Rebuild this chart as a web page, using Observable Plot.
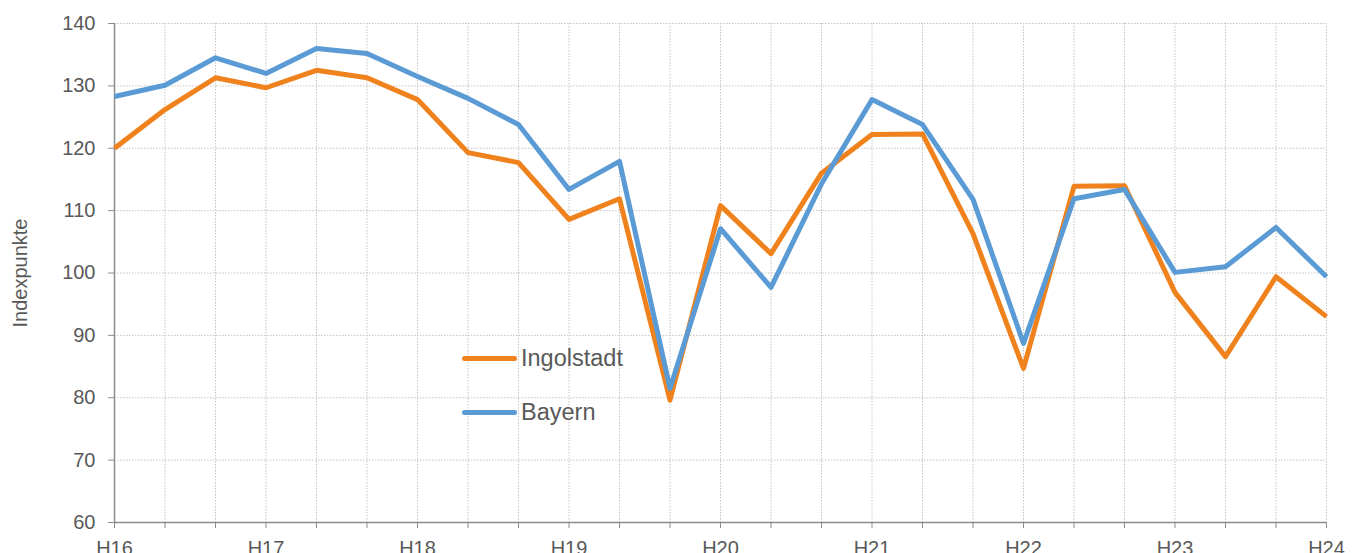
<!DOCTYPE html>
<html>
<head>
<meta charset="utf-8">
<script src="https://cdn.jsdelivr.net/npm/d3@7"></script>
<script src="https://cdn.jsdelivr.net/npm/@observablehq/plot@0.6"></script>
<style>
  html, body { margin: 0; padding: 0; background: #fff; }
  #wrap { position: relative; width: 1360px; height: 553px; overflow: hidden; font-family: "Liberation Sans", Arial, sans-serif; }
  .leg { position: absolute; left: 462px; display: flex; align-items: center; font-size: 23.5px; color: #595959; }
  .leg .sw { width: 55px; height: 5px; border-radius: 3px; margin-right: 4px; }
</style>
</head>
<body>
<div id="wrap"></div>
<script>
// Period labels (every third survey point carries a label)
const yearLabels = ["H16", "H17", "H18", "H19", "H20", "H21", "H22", "H23", "H24"];
const seriesNames = ["Ingolstadt", "Bayern"];
const seriesColors = ["#F0821E", "#5B9BD5"];

const ingolstadt = [120.0, 126.2, 131.3, 129.7, 132.5, 131.3, 127.8, 119.3, 117.7, 108.6, 111.9, 79.6,
                    110.8, 103.1, 116.0, 122.2, 122.3, 106.3, 84.7, 113.9, 114.0, 96.9, 86.6, 99.4, 93.0];
const bayern     = [128.3, 130.1, 134.5, 132.0, 136.0, 135.2, 131.5, 128.0, 123.8, 113.4, 117.9, 81.5,
                    107.1, 97.7, 114.3, 127.8, 123.8, 111.8, 88.7, 111.9, 113.4, 100.1, 101.0, 107.3, 99.4];
const yTicks = [60, 70, 80, 90, 100, 110, 120, 130, 140];

const idx = d3.range(ingolstadt.length);
const rows = [
  ...ingolstadt.map((v, i) => ({i, v, s: seriesNames[0]})),
  ...bayern.map((v, i) => ({i, v, s: seriesNames[1]}))
];

const grid = {stroke: "#c4c4c4", strokeOpacity: 1, strokeWidth: 1, strokeDasharray: "1.5,1.5"};

const chart = Plot.plot({
  width: 1360,
  height: 553,
  marginLeft: 114,
  marginRight: 34,
  marginTop: 23,
  marginBottom: 31,
  style: {fontFamily: "'Liberation Sans', Arial, sans-serif", fontSize: "20px", color: "#595959", background: "white", overflow: "visible"},
  x: {domain: [0, idx.length - 1]},
  y: {domain: [60, 140]},
  color: {domain: seriesNames, range: seriesColors},
  marks: [
    Plot.gridX(idx, grid),
    Plot.gridY(yTicks, grid),
    Plot.ruleX([0], {stroke: "#8c8c8c", strokeWidth: 1.5}),
    Plot.ruleY([60], {stroke: "#8c8c8c", strokeWidth: 1.5}),
    Plot.axisY(yTicks, {tickSize: 6, tickPadding: 13, stroke: "#8c8c8c", fill: "#595959",
      label: "Indexpunkte", labelAnchor: "center", labelArrow: "none", labelOffset: 102}),
    Plot.axisX(idx, {tickSize: 6, tickPadding: 12, stroke: "#8c8c8c", fill: "#595959",
      tickFormat: i => i % 3 === 0 ? yearLabels[i / 3] : "", label: null}),
    Plot.line(rows, {x: "i", y: "v", z: "s", stroke: "s", strokeWidth: 5, strokeLinejoin: "round", strokeLinecap: "butt"})
  ]
});

const wrap = document.getElementById("wrap");
wrap.appendChild(chart);

// Legend (HTML, positioned over the plot)
const legendTops = [358, 412];
seriesNames.forEach((name, k) => {
  const row = document.createElement("div");
  row.className = "leg";
  row.style.top = (legendTops[k] - 14) + "px";
  row.style.height = "28px";
  const sw = document.createElement("div");
  sw.className = "sw";
  sw.style.background = seriesColors[k];
  const t = document.createElement("span");
  t.textContent = name;
  row.appendChild(sw);
  row.appendChild(t);
  wrap.appendChild(row);
});
</script>
</body>
</html>
